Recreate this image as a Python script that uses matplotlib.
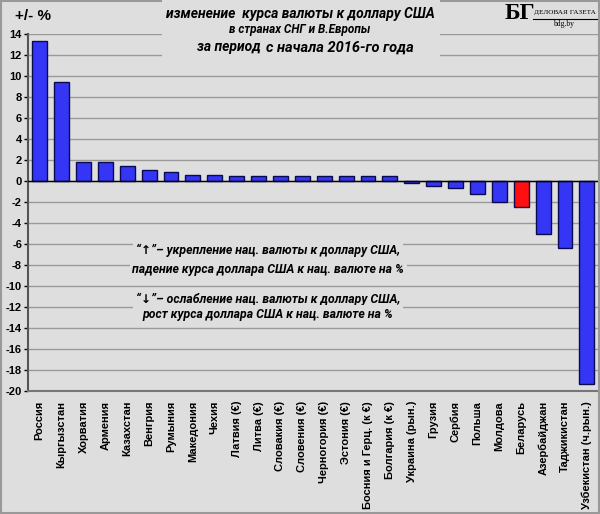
import matplotlib.pyplot as plt
from matplotlib.patches import Rectangle

countries = [
    "Россия", "Кыргызстан", "Хорватия", "Армения", "Казахстан", "Венгрия",
    "Румыния", "Македония", "Чехия", "Латвия (€)", "Литва (€)", "Словакия (€)",
    "Словения (€)", "Черногория (€)", "Эстония (€)", "Босния и Герц. (к €)",
    "Болгария (к €)", "Украина (рын.)", "Грузия", "Сербия", "Польша", "Молдова",
    "Беларусь", "Азербайджан", "Таджикистан", "Узбекистан (ч.рын.)",
]
change = [
    13.3, 9.45, 1.8, 1.8, 1.43, 1.05, 0.83, 0.57, 0.55, 0.5, 0.5, 0.5,
    0.5, 0.5, 0.5, 0.5, 0.5, -0.2, -0.45, -0.7, -1.2, -1.95,
    -2.5, -5.0, -6.4, -19.3,
]
highlight = "Беларусь"
y_ticks = list(range(-20, 15, 2))

BG = "#dedede"
BLUE = "#3535f5"
RED = "#ff0f0f"
EDGE = "#0a0a50"
SANS = ["Liberation Sans", "DejaVu Sans"]
TITLE = ["Roboto", "DejaVu Sans"]

fig = plt.figure(figsize=(6.0, 5.14), dpi=100, facecolor=BG)
ax = fig.add_axes([0.046, 0.239, 0.954, 0.695])
ax.set_facecolor(BG)

x = range(len(countries))
colors = [RED if c == highlight else BLUE for c in countries]
ax.bar(x, change, width=0.68, color=colors, edgecolor=EDGE, linewidth=1.0, zorder=3)

ax.set_ylim(-20, 14)
ax.set_xlim(-0.55, len(countries) - 0.4)
ax.set_yticks(y_ticks)
ax.set_yticklabels([str(v) for v in y_ticks], fontsize=8, fontweight="bold", family=SANS)
ax.yaxis.grid(True, color="#9a9a9a", linewidth=1.0, zorder=0)
ax.axhline(0, color="black", linewidth=1.0, zorder=4)
ax.tick_params(axis="y", length=3, width=1, pad=1, colors="black")
ax.set_xticks(list(x))
ax.set_xticklabels(countries, rotation=90, fontsize=8, fontweight="bold", family=SANS)
ax.tick_params(axis="x", length=0, pad=7)
for side in ["top", "right"]:
    ax.spines[side].set_visible(False)
ax.spines["left"].set_color("#555555")
ax.spines["left"].set_linewidth(1.5)
ax.spines["bottom"].set_color("#777777")
ax.spines["bottom"].set_linewidth(1.5)

# title block, with a background patch hiding the gridlines
fig.patches.append(Rectangle((0.27, 0.885), 0.463, 0.115, transform=fig.transFigure,
                             facecolor=BG, edgecolor="none", zorder=5))
fig.text(0.5, 0.973, "изменение  курса валюты к доллару США", ha="center", va="center",
         fontsize=10, fontweight="bold", style="italic", family=TITLE, zorder=6)
fig.text(0.5, 0.943, "в странах СНГ и В.Европы", ha="center", va="center",
         fontsize=8.5, fontweight="bold", style="italic", family=TITLE, zorder=6)
fig.text(0.435, 0.908, "за период", ha="right", va="center",
         fontsize=10, fontweight="bold", style="italic", family=TITLE, zorder=6)
fig.text(0.443, 0.908, "с начала 2016-го года", ha="left", va="center",
         fontsize=10.5, fontweight="bold", style="italic", family=TITLE, zorder=6)

fig.text(0.025, 0.968, "+/- %", ha="left", va="center", fontsize=11, fontweight="bold",
         family=SANS)

# logo
fig.text(0.866, 0.974, "БГ", ha="center", va="center", fontsize=17, fontweight="bold",
         family="Liberation Serif")
fig.text(0.941, 0.976, "ДЕЛОВАЯ ГАЗЕТА", ha="center", va="center", fontsize=5.2,
         family="Liberation Serif")
fig.lines.append(plt.Line2D([0.888, 0.995], [0.963, 0.963], transform=fig.transFigure,
                            color="black", linewidth=0.8))
fig.text(0.94, 0.953, "bdg.by", ha="center", va="center", fontsize=5.5,
         family="Liberation Serif")

# legend-like notes
notes = [
    (0.513, "“↑”– укрепление нац. валюты к доллару США,"),
    (0.475, "падение курса доллара США к нац. валюте на %"),
    (0.417, "“↓”– ослабление нац. валюты к доллару США,"),
    (0.388, "рост курса доллара США к нац. валюте на %"),
]
for y, t in notes:
    fig.text(0.447, y, t, ha="center", va="center", fontsize=8.8, fontweight="bold",
             style="italic", family=TITLE, zorder=6,
             bbox=dict(facecolor=BG, edgecolor="none", pad=2))

fig.patches.append(Rectangle((0.001, 0.001), 0.997, 0.997, transform=fig.transFigure,
                             facecolor="none", edgecolor="#999999", linewidth=1.5))

fig.savefig("out.png", dpi=100, facecolor=BG)
